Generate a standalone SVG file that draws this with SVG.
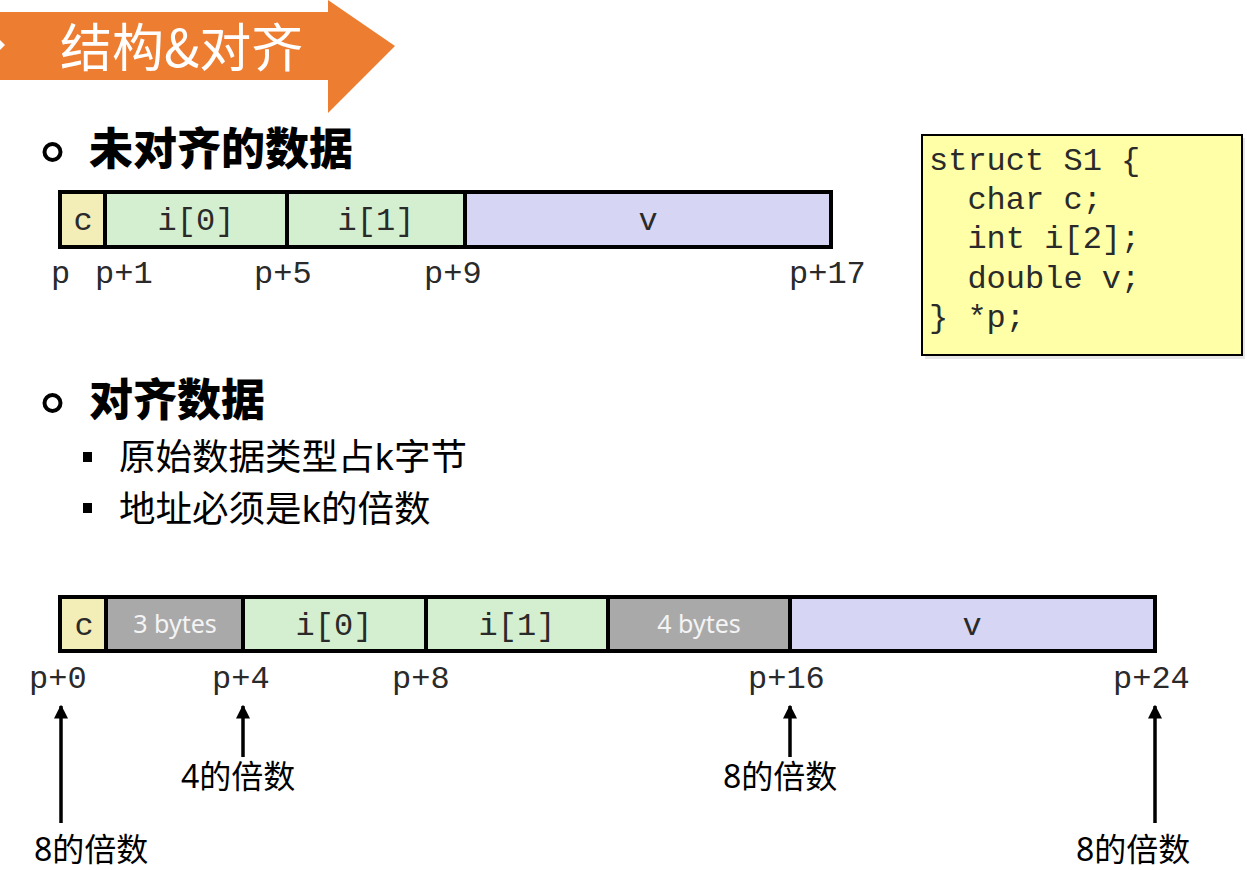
<svg xmlns="http://www.w3.org/2000/svg" width="1247" height="870" viewBox="0 0 1247 870">
<defs>
<style>
.mono{font-family:"Liberation Mono","Courier New",monospace;font-size:32px;fill:#2a2a2a}
.head{font-family:"Noto Sans CJK SC",sans-serif;font-weight:900;font-size:44px;fill:#000}
.sub{font-family:"Noto Sans","Noto Sans CJK SC",sans-serif;font-size:36.5px;fill:#000}
.lbl{font-family:"Noto Sans","Noto Sans CJK SC",sans-serif;font-size:32px;fill:#000}
.gap{font-family:"Noto Sans","Open Sans",sans-serif;font-size:25px;fill:#f4f4f4}
.cell{stroke:#000;stroke-width:4}
.yel{fill:#f3eeb8}.grn{fill:#d4efcf}.lav{fill:#d6d6f4}.gry{fill:#a9a9a9}
.arr{stroke:#000;stroke-width:3.5;fill:none}
</style>
<marker id="ah" viewBox="0 0 10 10" refX="9" refY="5" markerWidth="4" markerHeight="4.5" orient="auto" markerUnits="strokeWidth">
<path d="M0,0 L10,5 L0,10 z" fill="#000"/>
</marker>
</defs>
<rect width="1247" height="870" fill="#fff"/>

<g id="banner">
<rect x="0" y="12" width="329" height="68" fill="#ed7d31"/>
<polygon points="328,0 395,46 328,113" fill="#ed7d31"/>
<polygon points="0,40 5,45 0,50" fill="#fff"/>
<text x="60" y="67" font-family="Noto Sans CJK SC,sans-serif" font-size="52" fill="#fff">结构&amp;对齐</text>
</g>

<g id="heading1">
<circle cx="52.5" cy="152" r="8" fill="none" stroke="#000" stroke-width="4"/>
<text x="89" y="165" class="head">未对齐的数据</text>
</g>

<g id="unaligned">
<rect x="60" y="192" width="45" height="55" class="cell yel"/>
<rect x="105" y="192" width="182" height="55" class="cell grn"/>
<rect x="287" y="192" width="178" height="55" class="cell grn"/>
<rect x="465" y="192" width="366" height="55" class="cell lav"/>
<text x="83" y="230" class="mono" text-anchor="middle">c</text>
<text x="196" y="230" class="mono" text-anchor="middle">i[0]</text>
<text x="376" y="230" class="mono" text-anchor="middle">i[1]</text>
<text x="648" y="230" class="mono" text-anchor="middle">v</text>
<text x="51" y="283" class="mono">p</text>
<text x="95" y="283" class="mono">p+1</text>
<text x="254" y="283" class="mono">p+5</text>
<text x="424" y="283" class="mono">p+9</text>
<text x="789" y="283" class="mono">p+17</text>
</g>

<g id="code">
<rect x="925" y="138" width="320" height="221" fill="#e6e6e6"/>
<rect x="922" y="135" width="320" height="220" fill="#ffffa8" stroke="#000" stroke-width="2"/>
<text x="929" y="170" class="mono" xml:space="preserve">struct S1 {</text>
<text x="929" y="209" class="mono" xml:space="preserve">  char c;</text>
<text x="929" y="248" class="mono" xml:space="preserve">  int i[2];</text>
<text x="929" y="288" class="mono" xml:space="preserve">  double v;</text>
<text x="929" y="327" class="mono" xml:space="preserve">} *p;</text>
</g>

<g id="heading2">
<circle cx="52.5" cy="403" r="8" fill="none" stroke="#000" stroke-width="4"/>
<text x="89" y="416" class="head">对齐数据</text>
<rect x="83" y="452" width="9" height="10" fill="#000"/>
<text x="119" y="470" class="sub">原始数据类型占k字节</text>
<rect x="83" y="503" width="9" height="10" fill="#000"/>
<text x="119" y="522" class="sub">地址必须是k的倍数</text>
</g>

<g id="aligned">
<rect x="60" y="597" width="46" height="54" class="cell yel"/>
<rect x="106" y="597" width="137" height="54" class="cell gry"/>
<rect x="243" y="597" width="183" height="54" class="cell grn"/>
<rect x="426" y="597" width="182" height="54" class="cell grn"/>
<rect x="608" y="597" width="182" height="54" class="cell gry"/>
<rect x="790" y="597" width="365" height="54" class="cell lav"/>
<text x="84" y="635" class="mono" text-anchor="middle">c</text>
<text x="175" y="633" class="gap" text-anchor="middle">3 bytes</text>
<text x="334" y="635" class="mono" text-anchor="middle">i[0]</text>
<text x="517" y="635" class="mono" text-anchor="middle">i[1]</text>
<text x="699" y="633" class="gap" text-anchor="middle">4 bytes</text>
<text x="972" y="635" class="mono" text-anchor="middle">v</text>
<text x="29" y="688" class="mono">p+0</text>
<text x="212" y="688" class="mono">p+4</text>
<text x="392" y="688" class="mono">p+8</text>
<text x="748" y="688" class="mono">p+16</text>
<text x="1113" y="688" class="mono">p+24</text>
</g>

<g id="connectors">
<line x1="61" y1="823" x2="61" y2="706" class="arr" marker-end="url(#ah)"/>
<line x1="243" y1="757" x2="243" y2="706" class="arr" marker-end="url(#ah)"/>
<line x1="790" y1="757" x2="790" y2="706" class="arr" marker-end="url(#ah)"/>
<line x1="1155" y1="823" x2="1155" y2="706" class="arr" marker-end="url(#ah)"/>
</g>

<g id="labels">
<text x="34" y="861" class="lbl">8的倍数</text>
<text x="181" y="788" class="lbl">4的倍数</text>
<text x="723" y="788" class="lbl">8的倍数</text>
<text x="1076" y="861" class="lbl">8的倍数</text>
</g>
</svg>
